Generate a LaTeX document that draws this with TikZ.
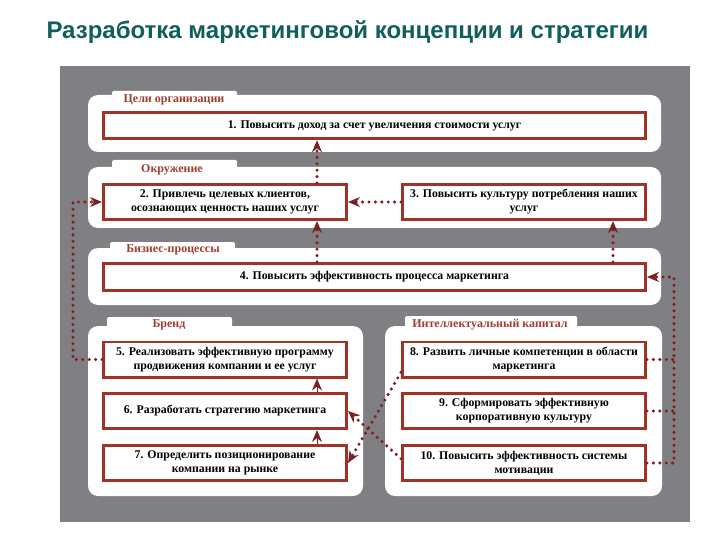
\documentclass[tikz,border=0pt]{standalone}
\usepackage{fontspec}
\setmainfont{Liberation Serif}
\newfontfamily\titlefont{Liberation Sans}
\usetikzlibrary{arrows.meta}

\definecolor{bggray}{RGB}{128,128,132}
\definecolor{boxred}{RGB}{160,50,40}
\definecolor{dotred}{RGB}{125,32,32}
\definecolor{labred}{RGB}{158,62,46}
\definecolor{titleteal}{RGB}{16,94,94}

\begin{document}
\begin{tikzpicture}[
    x=1pt, y=-1pt,
    every node/.style={font=\bfseries},
    goal/.style={draw=boxred, line width=2.8pt, fill=white, align=center,
        minimum width=243.2pt, minimum height=35.2pt, inner sep=2pt,
        font=\bfseries\fontsize{11.8}{14}\selectfont},
    widegoal/.style={goal, minimum width=542.2pt, minimum height=26.6pt},
    panel/.style={fill=white, rounded corners=10pt},
    tab/.style={fill=white, rounded corners=1.5pt},
    tabtext/.style={text=labred, font=\bfseries\fontsize{12}{13}\selectfont},
    flow/.style={dotred, line width=3.4pt, line cap=round, dash pattern=on 0pt off 6.4pt},
    tip/.style={-{Stealth[length=12pt,width=10pt]}},
]

\useasboundingbox[fill=white] (0,0) rectangle (720,540);

% Title
\node[anchor=west, text=titleteal, font=\titlefont\bfseries\fontsize{24}{28}\selectfont]
    (title) at (43,32) {Разработка маркетинговой концепции и стратегии};

% === Gray background ===
\fill[bggray] (60,66) rectangle (690,522);

% === Panels with their tabs ===
\fill[panel] (88,95) rectangle (661,152);
\fill[tab] (112,91) rectangle (237,102);
\fill[panel] (88,167) rectangle (661,228);
\fill[tab] (112,160) rectangle (237,172);
\fill[panel] (88,248) rectangle (661,305);
\fill[tab] (110,242) rectangle (235,252);
\fill[panel] (88,326) rectangle (363,496);
\fill[tab] (107,317) rectangle (232,330);
\fill[panel] (385,326) rectangle (662,496);
\fill[tab] (405,316) rectangle (577,330);

\node[tabtext] (lgoals) at (174,100) {Цели организации};
\node[tabtext] (lenv) at (172,170) {Окружение};
\node[tabtext] (lproc) at (173,250) {Бизнес-процессы};
\node[tabtext] (lbrand) at (169,325) {Бренд};
\node[tabtext] (lcap) at (490,325) {Интеллектуальный капитал};

% === Goal boxes ===
\node[widegoal] (g1) at (374.5,125.5) {1. Повысить доход за счет увеличения стоимости услуг};
\node[goal] (g2) at (225,202) {2. Привлечь целевых клиентов,\\осознающих ценность наших услуг};
\node[goal] (g3) at (524,202) {3. Повысить культуру потребления наших\\услуг};
\node[widegoal, minimum height=27.2pt] (g4) at (374.5,277) {4. Повысить эффективность процесса маркетинга};
\node[goal] (g5) at (225,359.5) {5. Реализовать эффективную программу\\продвижения компании и ее услуг};
\node[goal] (g6) at (225,411) {6. Разработать стратегию маркетинга};
\node[goal] (g7) at (225,463) {7. Определить позиционирование\\компании на рынке};
\node[goal] (g8) at (524,359.5) {8. Развить личные компетенции в области\\маркетинга};
\node[goal] (g9) at (524,411) {9. Сформировать эффективную\\корпоративную культуру};
\node[goal] (g10) at (524,463) {10. Повысить эффективность системы\\мотивации};

% Columns and rails for the connectors
\coordinate (colL) at (317,0);
\coordinate (colR) at (613,0);
\coordinate (railL) at (73,0);
\coordinate (railR) at (674,0);

% === Dotted connectors ===
\draw[flow, tip] (g2.north -| colL) -- (g1.south -| colL);
\draw[flow, tip] (g4.north -| colL) -- (g2.south -| colL);
\draw[flow, tip] (g3.west) -- (g2.east);
\draw[flow, tip] (g4.north -| colR) -- (g3.south -| colR);

% left rail: 5 -> 2
\draw[flow, tip] (g5.west) -- (g5.west -| railL) -- (g2.west -| railL) -- (g2.west);

% right rail: 8, 9, 10 -> 4
\draw[flow] (g8.east) -- (g8.east -| railR);
\draw[flow] (g9.east) -- (g9.east -| railR);
\draw[flow, tip] (g10.east) -- (g10.east -| railR) -- (g4.east -| railR) -- (g4.east);

% crossing links
\draw[flow, tip] (g8.186) -- (g7.east);
\draw[flow, tip] (g10.178) -- (g6.east);

% solid links inside the brand panel
\draw[dotred, tip, line width=1pt] (g6.north -| colL) -- (g5.south -| colL);
\draw[dotred, tip, line width=1pt] (g7.north -| colL) -- (g6.south -| colL);

\end{tikzpicture}
\end{document}
